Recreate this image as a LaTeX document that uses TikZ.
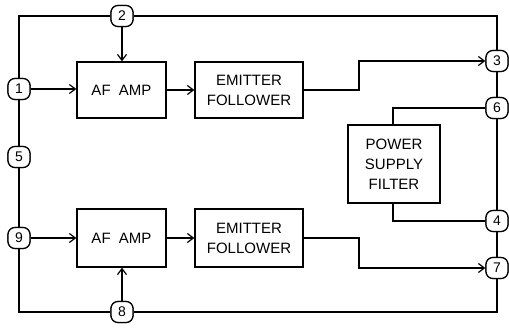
\documentclass[tikz,border=0pt]{standalone}
\usepackage{fontspec}
\setmainfont{Liberation Sans}
\usetikzlibrary{arrows.meta}
\begin{document}
\begin{tikzpicture}[x=1pt,y=-1pt,line width=1.2pt,
  pin/.style={draw,fill=white,rounded corners=7pt,minimum width=22pt,minimum height=21pt,inner sep=0pt,font=\fontsize{14}{14}\selectfont},
  blk/.style={draw,fill=white,inner sep=0pt,align=center,font=\fontsize{15}{20}\selectfont},
  arr/.style={-{Straight Barb[length=6pt,width=9pt]}}]
\useasboundingbox (0,0) rectangle (509,327);
% pins
\node[pin] (p2) at (122,16) {2};
\node[pin] (p1) at (19,89) {1};
\node[pin] (p5) at (19,157) {5};
\node[pin] (p9) at (19,238) {9};
\node[pin] (p8) at (122,312) {8};
\node[pin] (p3) at (497,61) {3};
\node[pin] (p6) at (497,108) {6};
\node[pin] (p4) at (497,221) {4};
\node[pin] (p7) at (497,268) {7};
\coordinate (tl) at (19,16);
\coordinate (tr) at (497,16);
\coordinate (bl) at (19,312);
\coordinate (br) at (497,312);
% blocks
\node[blk,minimum width=89pt,minimum height=56pt] (amp1) at (121.5,90) {AF\ \ AMP};
\node[blk,minimum width=108pt,minimum height=56pt] (ef1) at (249,90) {EMITTER\\FOLLOWER};
\node[blk,minimum width=89pt,minimum height=58pt] (amp2) at (121.5,238) {AF\ \ AMP};
\node[blk,minimum width=108pt,minimum height=58pt] (ef2) at (249,238) {EMITTER\\FOLLOWER};
\node[blk,minimum width=92pt,minimum height=78pt] (psf) at (394,164) {POWER\\SUPPLY\\FILTER};
% frame
\draw (p1) -- (tl) -- (p2) -- (tr) -- (p3);
\draw (p1) -- (p5) -- (p9) -- (bl) -- (p8) -- (br) -- (p7);
\draw (p3) -- (p6) -- (p4) -- (p7);
% signal arrows
\draw[arr] (p1) -- (amp1.west |- p1);
\draw[arr] (p9) -- (amp2.west |- p9);
\draw[arr] (p2) -- (p2 |- amp1.north);
\draw[arr] (p8) -- (p8 |- amp2.south);
\draw[arr] (amp1) -- (ef1);
\draw[arr] (amp2) -- (ef2);
\draw[arr] (ef1.east) -- (359,90) -- (359,61) -- (p3);
\draw[arr] (ef2.east) -- (359,238) -- (359,268) -- (p7);
\draw (psf.north -| 393,0) -- (393,108) -- (p6);
\draw (psf.south -| 393,0) -- (393,221) -- (p4);
% redraw pins on top
\foreach \n/\t in {p2/2,p1/1,p5/5,p9/9,p8/8,p3/3,p6/6,p4/4,p7/7}{\node[pin] at (\n) {\t};}
\end{tikzpicture}
\end{document}
